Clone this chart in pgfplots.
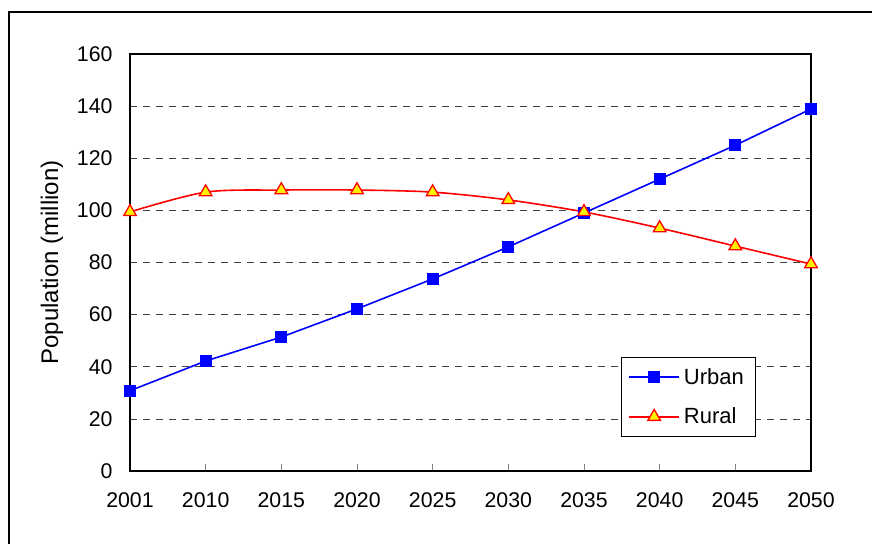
\documentclass[border=0pt]{standalone}
\usepackage{fontspec}
\setmainfont{Liberation Sans}
\usepackage{pgfplots}
\pgfplotsset{compat=1.18}
\begin{document}
\begin{tikzpicture}[x=1pt,y=1pt]
\useasboundingbox (0,0) rectangle (872,543);
\draw[line width=1.3pt] (9,-20) -- (9,531) -- (890,531);
\begin{axis}[
  at={(130pt,72pt)}, anchor=south west,
  scale only axis, width=681pt, height=417pt,
  xmin=0, xmax=9, ymin=0, ymax=160,
  xtick={0,...,9},
  xticklabels={2001,2010,2015,2020,2025,2030,2035,2040,2045,2050},
  ytick={0,20,...,160},
  xtick pos=bottom, ytick pos=left,
  tick align=inside,
  major tick length=7pt,
  xtick style={gray, line width=0.8pt},
  ytick style={draw=none},
  ymajorgrids,
  grid style={black!75, line width=0.7pt, dash pattern=on 7pt off 6pt},
  axis line style={line width=1.2pt},
  /pgf/number format/assume math mode=true,
  tick label style={font=\fontsize{21.3}{25}\selectfont},
  yticklabel style={anchor=east, xshift=-14pt},
  xticklabel style={anchor=north, yshift=-18pt},
  ylabel={Population (million)},
  every axis y label/.style={at={(axis description cs:-0.1145,0.5)}, rotate=90, anchor=center, font=\fontsize{24}{28}\selectfont},
  legend style={at={(axis description cs:0.721,0.273)}, anchor=north west,
    draw=black, line width=0.8pt, font=\fontsize{22}{26}\selectfont,
    inner xsep=7pt, inner ysep=9pt, row sep=18pt, legend cell align=left,
    nodes={inner xsep=4pt}},
  legend image code/.code={\draw[mark repeat=2,mark phase=2,#1] plot coordinates {(0pt,0pt) (25pt,0pt) (50pt,0pt)};},
]
\addplot[blue, line width=1.6pt, mark=square*, mark size=5.3pt, mark options={fill=blue, draw=blue, solid}]
  coordinates {(0,30.8) (1,42.2) (2,51.4) (3,62.2) (4,73.7) (5,86.0) (6,99.0) (7,112.0) (8,125.0) (9,138.9)};
\addlegendentry{Urban}
\addplot[red, line width=1.6pt, smooth, tension=0.5, mark=triangle*, mark size=7.3pt, mark options={fill=yellow, draw=red, line width=1.3pt, solid}]
  coordinates {(0,99.4) (1,107.0) (2,107.8) (3,107.8) (4,107.0) (5,104.0) (6,99.4) (7,93.2) (8,86.3) (9,79.4)};
\addlegendentry{Rural}
\end{axis}
\end{tikzpicture}
\end{document}
